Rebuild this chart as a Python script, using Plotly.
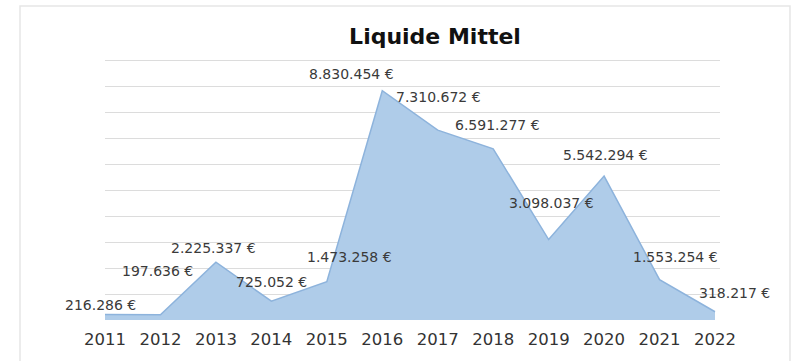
import plotly.graph_objects as go

# Liquid funds per year (EUR)
years = [2011, 2012, 2013, 2014, 2015, 2016, 2017, 2018, 2019, 2020, 2021, 2022]
values = [216286, 197636, 2225337, 725052, 1473258, 8830454, 7310672,
          6591277, 3098037, 5542294, 1553254, 318217]

# label placement around each point (pixels: right, up)
label_dx = [-5, -3, -2, 0, 23, -31, 1, 4, 3, 1, 16, 19]
label_dy = [9, 44, 14, 19, 25, 17, 33, 24, 37, 21, 23, 19]


def euro(v):
    return f"{v:,}".replace(",", ".") + " €"


fig = go.Figure()
fig.add_trace(go.Scatter(
    x=years, y=values, mode="lines", fill="tozeroy",
    line=dict(color="#8db3dc", width=1.5),
    fillcolor="#afcce9", hoverinfo="skip", showlegend=False,
))

for x, v, dx, dy in zip(years, values, label_dx, label_dy):
    fig.add_annotation(
        x=x, y=v, text=euro(v), showarrow=False,
        xshift=dx, yshift=dy,
        font=dict(family="DejaVu Sans", size=14, color="#3a3a3a"),
    )

# light frame around the chart
fig.add_shape(type="rect", xref="paper", yref="paper",
              x0=-0.1382, x1=1.1138, y0=-0.3, y1=1.2031,
              line=dict(color="#e6e6e6", width=1.5), fillcolor="rgba(0,0,0,0)",
              layer="below")

fig.update_layout(
    width=796, height=361,
    margin=dict(l=105, r=76, t=59, b=41),
    paper_bgcolor="white", plot_bgcolor="white",
    title=dict(text="<b>Liquide Mittel</b>", x=0.5465, xanchor="center",
               y=0.9, yanchor="middle", yref="container",
               font=dict(family="DejaVu Sans", size=22, color="#111111")),
    xaxis=dict(range=[2011, 2022.09], tickmode="array", tickvals=years,
               ticktext=[str(y) for y in years], showgrid=False, zeroline=False,
               showline=False, ticks="outside", ticklen=4, tickcolor="rgba(0,0,0,0)",
               tickfont=dict(family="DejaVu Sans", size=16.5, color="#333333")),
    yaxis=dict(range=[0, 10050000], dtick=1000000, showticklabels=False,
               showgrid=True, gridcolor="#dcdcdc", gridwidth=1,
               zeroline=False, showline=False),
)

fig.write_html("out.html")
